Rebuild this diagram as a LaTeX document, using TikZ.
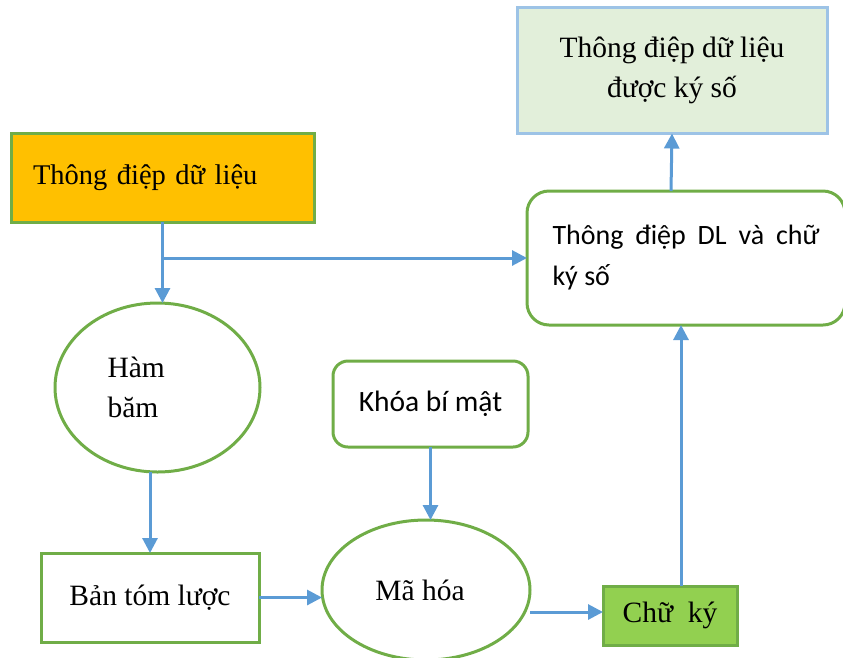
\documentclass[tikz,border=0pt]{standalone}
\usepackage{fontspec}
\setmainfont{Liberation Serif}
\newfontfamily\calib{Carlito}
\usetikzlibrary{arrows.meta,shapes.geometric}
\definecolor{edgegreen}{HTML}{70AD47}
\definecolor{flowblue}{HTML}{5B9BD5}
\definecolor{amber}{HTML}{FFC000}
\definecolor{palegreen}{HTML}{E2EFDA}
\definecolor{paleblue}{HTML}{9DC3E6}
\definecolor{leafgreen}{HTML}{92D050}
\tikzset{
  base/.style={line width=3pt, inner sep=0pt, outer sep=0pt,
    font=\fontsize{29.5}{40}\selectfont},
  greenbox/.style={base, draw=edgegreen, rectangle},
  roundbox/.style={greenbox, rounded corners=#1},
  oval/.style={base, draw=edgegreen, ellipse},
  flow/.style={draw=flowblue, line width=3pt,
    -{Triangle[length=15pt,width=15pt]}}
}
\begin{document}
\begin{tikzpicture}[x=1pt,y=-1pt]
\useasboundingbox (0,0) rectangle (843,657);

% signed message (output)
\node[base, draw=paleblue, fill=palegreen, minimum width=310pt, minimum height=126pt,
      align=center] (signed) at (672,70.5) {Thông điệp dữ liệu\\được ký số};

% source message
\node[greenbox, fill=amber, minimum width=303pt, minimum height=89pt,
      text width=259pt, align=left, font=\fontsize{28.5}{40}\selectfont]
      (msg) at (162.5,177.5) {Thông điệp dữ liệu};

% message together with signature
\node[roundbox=22pt, minimum width=318pt, minimum height=134pt,
      text width=267pt, align=justify, font=\calib\fontsize{28}{41}\selectfont]
      (pack) at (686,258) {Thông điệp DL và chữ\linebreak ký số};

% hash function
\node[oval, minimum width=205pt, minimum height=169pt, text width=100pt,
      align=left] (hash) at (157.5,387.5) {Hàm\\băm};

% private key
\node[roundbox=15pt, minimum width=195pt, minimum height=86pt,
      font=\calib\fontsize{29.5}{40}\selectfont] (key) at (430.5,404) {Khóa bí mật};

% digest
\node[greenbox, minimum width=218pt, minimum height=89pt] (digest) at (150,597.5) {Bản tóm lược};

% encryption
\node[oval, minimum width=208pt, minimum height=140pt] (enc) at (426,590) {\hspace*{-12pt}Mã hóa};

% signature
\node[greenbox, fill=leafgreen, minimum width=134pt, minimum height=59pt] (sig) at (670,615.5) {Chữ\ \ ký};

% connectors
\coordinate (split) at (msg.south |- pack.west);
\draw[flow] (msg.south) -- (msg.south |- hash.north);
\draw[flow] (split) -- (pack.west);
\draw[flow] (hash.south -| digest.north) -- (digest.north);
\draw[flow] (digest.east) -- (digest.east -| enc.west);
\draw[flow] (key.south) -- (key.south |- enc.north);
\draw[flow] ([yshift=3.5pt]sig.west -| enc.east) -- ([yshift=3.5pt]sig.west);
\draw[flow] ([xshift=11pt]sig.north) -- ([xshift=11pt]sig.north |- pack.south);
\draw[flow] ([xshift=-15pt]pack.north) -- (signed.south);
\end{tikzpicture}
\end{document}
